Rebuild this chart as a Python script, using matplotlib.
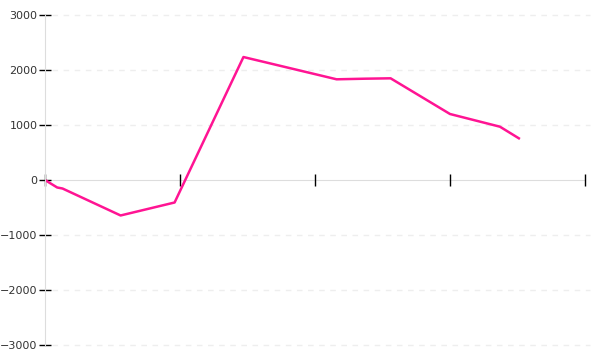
import matplotlib
matplotlib.use("Agg")
import matplotlib.pyplot as plt

# values
x_vals = [0, 0.9, 1.3, 5.6, 9.6, 14.7, 21.6, 23.7, 25.6, 30.0, 33.7, 35.1]
y_vals = [0, -136, -155, -645, -409, 2236, 1831, 1842, 1849, 1200, 969, 758]
y_ticks = [-3000, -2000, -1000, 0, 1000, 2000, 3000]
x_ticks = [0, 10, 20, 30, 40]

fig = plt.figure(figsize=(6, 3.6), dpi=100)
ax = fig.add_axes([0.075, 0.0417, 0.9, 0.9166])

ax.plot(x_vals, y_vals, color="#ff1493", linewidth=1.8, solid_joinstyle="round")

ax.set_xlim(0, 40)
ax.set_ylim(-3000, 3000)
ax.set_yticks(y_ticks)
ax.set_xticks(x_ticks)
ax.set_xticklabels([])

# spines: left light gray, bottom sits on zero
for s in ["top", "right"]:
    ax.spines[s].set_visible(False)
ax.spines["left"].set_color("#dddddd")
ax.spines["bottom"].set_position(("data", 0))
ax.spines["bottom"].set_color("#dddddd")
ax.spines["bottom"].set_zorder(0)

ax.tick_params(axis="y", direction="inout", length=9, width=1, color="black",
               labelsize=8, labelcolor="#333333", pad=1)
ax.tick_params(axis="x", direction="inout", length=9, width=1, color="black")

# dashed horizontal grid, starting a bit right of the axis
for yt in y_ticks:
    if yt != 0:
        ax.plot([0.5, 40.4], [yt, yt], color="#eeeeee", linewidth=1,
                linestyle=(0, (4, 4)), zorder=0, clip_on=False)

fig.savefig("out.png", dpi=100)
